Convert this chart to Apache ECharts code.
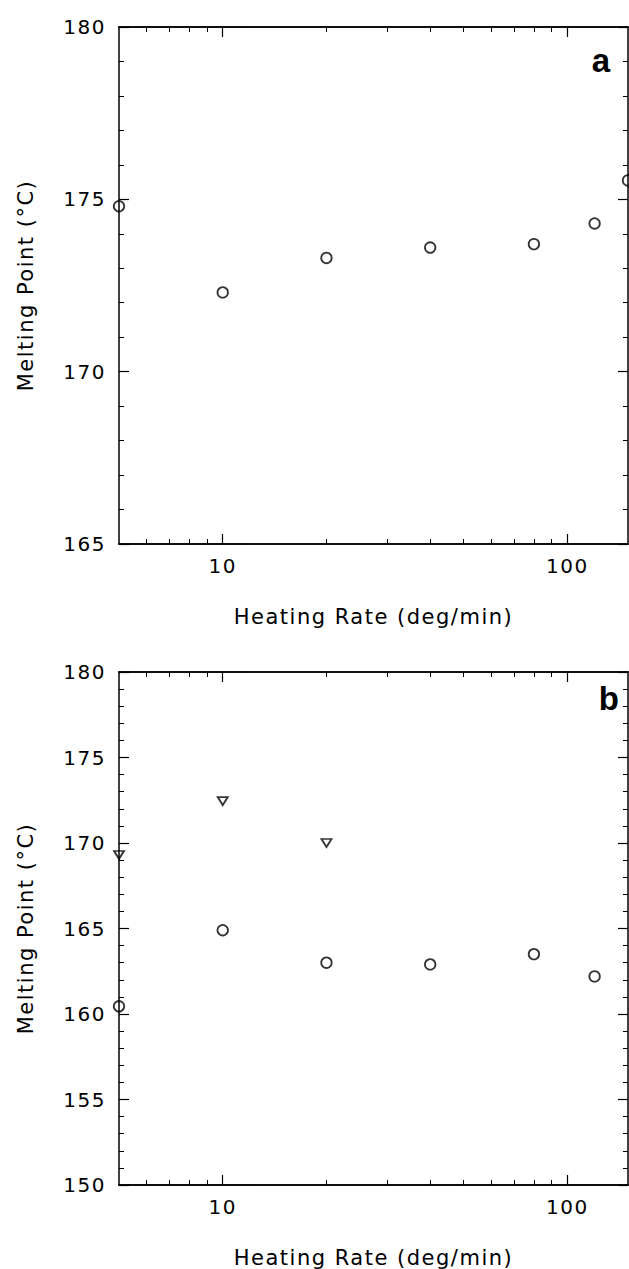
<!DOCTYPE html>
<html>
<head>
<meta charset="utf-8">
<script src="https://cdn.jsdelivr.net/npm/echarts@6/dist/echarts.min.js"></script>
<style>
html,body{margin:0;padding:0;background:#fff;}
#chart{width:629px;height:1269px;}
#chart svg text{letter-spacing:1.5px;}
</style>
</head>
<body>
<div id="chart"></div>
<script>
// ---- data ----
const xTickLabels = [10, 100];
const xMinorTicks = [6, 7, 8, 9, 20, 30, 40, 50, 60, 70, 80, 90];
const rateA = [5, 10, 20, 40, 80, 120, 150];
const meltA = [174.8, 172.3, 173.3, 173.6, 173.7, 174.3, 175.55];
const rateBCircle = [5, 10, 20, 40, 80, 120];
const meltBCircle = [160.45, 164.9, 163.0, 162.9, 163.5, 162.2];
const rateBTri = [5, 10, 20];
const meltBTri = [169.3, 172.45, 170.0];
const yRangeA = [165, 180];
const yRangeB = [150, 180];
const xRange = [5, 150];
const xTitle = 'Heating Rate (deg/min)';
const yTitle = 'Melting Point (°C)';
const panelLabels = ['a', 'b'];

const FONT = 'DejaVu Sans';
const lineStyle = {color: '#000', width: 1.5};

function xAxes(g) {
  const base = {
    type: 'log', logBase: 10, gridIndex: g, min: xRange[0], max: xRange[1],
    axisLine: {show: true, lineStyle: lineStyle},
    splitLine: {show: false}
  };
  return [
    Object.assign({}, base, {
      position: 'bottom',
      axisTick: {show: true, inside: true, length: 10, customValues: xTickLabels, lineStyle: {color: '#000', width: 1.2}},
      axisLabel: {show: true, customValues: xTickLabels, margin: 12, fontFamily: FONT, fontSize: 20, color: '#000'},
      name: xTitle, nameLocation: 'middle', nameGap: 62,
      nameTextStyle: {fontFamily: FONT, fontSize: 21, color: '#000'}
    }),
    Object.assign({}, base, {
      position: 'bottom',
      axisTick: {show: true, inside: true, length: 5, customValues: xMinorTicks, lineStyle: {color: '#000', width: 1}},
      axisLabel: {show: false}
    }),
    Object.assign({}, base, {
      position: 'top',
      axisTick: {show: true, inside: true, length: 10, customValues: xTickLabels, lineStyle: {color: '#000', width: 1.2}},
      axisLabel: {show: false}
    }),
    Object.assign({}, base, {
      position: 'top',
      axisTick: {show: true, inside: true, length: 5, customValues: xMinorTicks, lineStyle: {color: '#000', width: 1}},
      axisLabel: {show: false}
    })
  ];
}

function yAxes(g, range) {
  const base = {
    type: 'value', gridIndex: g, min: range[0], max: range[1], interval: 5,
    axisLine: {show: true, lineStyle: lineStyle},
    axisTick: {show: true, inside: true, length: 10, lineStyle: {color: '#000', width: 1.2}},
    minorTick: {show: true, splitNumber: 5, length: 5, lineStyle: {color: '#000', width: 1}},
    splitLine: {show: false}, minorSplitLine: {show: false}
  };
  return [
    Object.assign({}, base, {
      position: 'left',
      axisLabel: {show: true, margin: 13, fontFamily: FONT, fontSize: 20, color: '#000'},
      name: yTitle, nameLocation: 'middle', nameGap: 83,
      nameTextStyle: {fontFamily: FONT, fontSize: 21, color: '#000'}
    }),
    Object.assign({}, base, {position: 'right', axisLabel: {show: false}})
  ];
}

const circleStyle = {color: 'rgba(0,0,0,0)', borderColor: '#000', borderWidth: 1.8};

const option = {
  backgroundColor: '#fff',
  animation: false,
  grid: [
    {left: 119, top: 27, width: 509, height: 517},
    {left: 119, top: 672, width: 509, height: 514}
  ],
  xAxis: xAxes(0).concat(xAxes(1)),
  yAxis: yAxes(0, yRangeA).concat(yAxes(1, yRangeB)),
  graphic: [
    {type: 'text', right: 629 - 610, top: 44, style: {text: panelLabels[0], font: 'bold 33px "Liberation Sans"', fill: '#000'}},
    {type: 'text', right: 629 - 619, top: 682, style: {text: panelLabels[1], font: 'bold 33px "Liberation Sans"', fill: '#000'}}
  ],
  series: [
    {type: 'scatter', xAxisIndex: 0, yAxisIndex: 0, symbol: 'circle', symbolSize: 10.5,
     itemStyle: circleStyle, clip: false,
     data: rateA.map((x, i) => [x, meltA[i]])},
    {type: 'scatter', xAxisIndex: 4, yAxisIndex: 2, symbol: 'circle', symbolSize: 10.5,
     itemStyle: circleStyle, clip: false,
     data: rateBCircle.map((x, i) => [x, meltBCircle[i]])},
    {type: 'scatter', xAxisIndex: 4, yAxisIndex: 2, symbol: 'triangle', symbolRotate: 180, symbolSize: [10, 8],
     itemStyle: circleStyle, clip: false,
     data: rateBTri.map((x, i) => [x, meltBTri[i]])}
  ]
};

const chart = echarts.init(document.getElementById('chart'), null, {renderer: 'svg'});
chart.setOption(option);
</script>
</body>
</html>
